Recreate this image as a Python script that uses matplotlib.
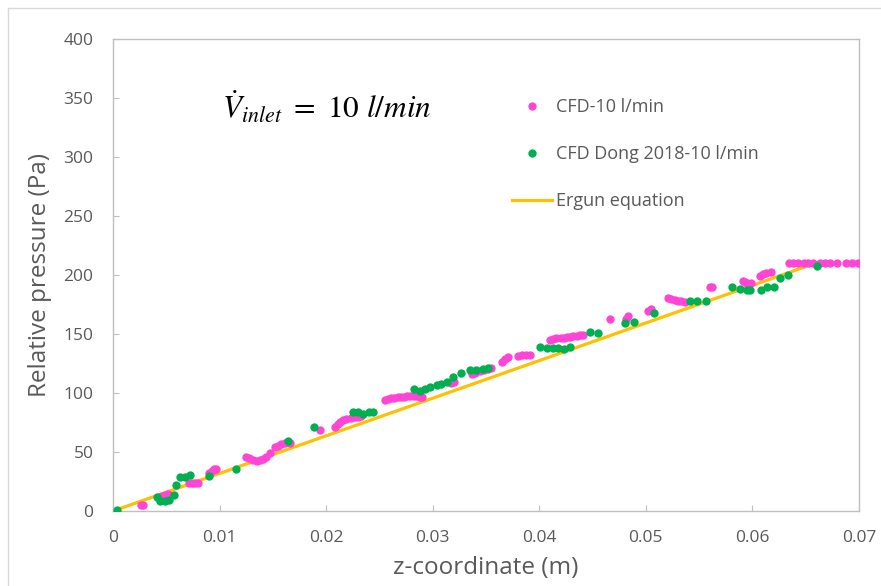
import numpy as np
import matplotlib.pyplot as plt
from matplotlib.lines import Line2D

# Datos
cfd_z = [0.0026, 0.0028, 0.0043, 0.0046, 0.0049, 0.0052, 0.0071, 0.0074, 0.0077, 0.0080,
         0.0090, 0.0093, 0.0095, 0.0097, 0.0125, 0.0128, 0.0131, 0.0135, 0.0138, 0.0141,
         0.0144, 0.0147, 0.0152, 0.0155, 0.0158, 0.0161, 0.0166, 0.0194, 0.0208, 0.0211,
         0.0213, 0.0216, 0.0219, 0.0223, 0.0227, 0.0230, 0.0233, 0.0255, 0.0258, 0.0261,
         0.0264, 0.0267, 0.0270, 0.0273, 0.0276, 0.0279, 0.0282, 0.0285, 0.0288, 0.0290,
         0.0317, 0.0320, 0.0337, 0.0340, 0.0344, 0.0348, 0.0352, 0.0355, 0.0365, 0.0368,
         0.0371, 0.0380, 0.0384, 0.0388, 0.0391, 0.0410, 0.0413, 0.0416, 0.0420, 0.0423,
         0.0426, 0.0429, 0.0432, 0.0435, 0.0438, 0.0441, 0.0466, 0.0481, 0.0483, 0.0502,
         0.0505, 0.0521, 0.0524, 0.0527, 0.0530, 0.0533, 0.0537, 0.0560, 0.0562, 0.0591,
         0.0593, 0.0595, 0.0599, 0.0607, 0.0610, 0.0613, 0.0617, 0.0634, 0.0638, 0.0643,
         0.0648, 0.0652, 0.0657, 0.0663, 0.0668, 0.0673, 0.0679, 0.0688, 0.0693, 0.0699]
cfd_p = [4.8, 5.5, 12, 13, 13.5, 14, 23.5, 23.5, 23.5, 23.5,
         32, 34, 35.5, 36, 45.5, 44.5, 43.5, 42.6, 43, 43.8,
         46, 48.9, 54.5, 55.5, 56.5, 57.5, 57.5, 68.6, 71.5, 73.5,
         75.7, 76.8, 77.7, 78.5, 79.4, 80, 80.5, 94, 95, 95.5,
         96, 96.3, 96.7, 96.9, 97.2, 97.5, 97.5, 97.5, 97, 96.9,
         108.5, 109.5, 116, 117, 118.5, 119.5, 120.5, 121, 126.5, 128.5,
         130.2, 131.4, 131.8, 132, 132, 144.9, 145.7, 146.3, 146.6, 146.9,
         147.3, 147.7, 148.2, 148.6, 148.8, 148.9, 162.4, 163, 165, 169.7,
         171, 180.2, 179.8, 178.8, 178.3, 178, 177.4, 189.6, 189.6, 195.2,
         194.2, 193.5, 192.9, 199, 200.8, 202, 202.5, 209.9, 209.9, 209.9,
         209.9, 209.9, 209.9, 209.9, 209.9, 209.9, 209.9, 209.9, 209.9, 209.9]

dong_z = [0.0004, 0.0041, 0.0044, 0.0049, 0.0053, 0.0057, 0.0059, 0.0063, 0.0068, 0.0072,
          0.0090, 0.01154, 0.01645, 0.01886, 0.0225, 0.0230, 0.0235, 0.0240, 0.0244, 0.0282,
          0.0288, 0.0293, 0.0297, 0.0304, 0.0308, 0.0313, 0.0319, 0.0327, 0.0335, 0.0341,
          0.0347, 0.0352, 0.0401, 0.0407, 0.0413, 0.0418, 0.0423, 0.0429, 0.0448, 0.0455,
          0.0480, 0.0489, 0.0508, 0.0541, 0.0548, 0.0556, 0.0581, 0.0588, 0.0595, 0.0598,
          0.0608, 0.0614, 0.0620, 0.0626, 0.0633, 0.0661]
dong_p = [0.8, 11.6, 8.7, 8.7, 9.3, 13.8, 22, 28.5, 28.5, 30.2,
          29.7, 35.9, 59.3, 71.5, 84.2, 84.2, 82, 84.2, 84.2, 103,
          102, 103, 105, 106.8, 107.3, 109.6, 113.8, 117.2, 119.5, 119.5,
          120, 121, 138.7, 137.9, 137.9, 137.9, 137.6, 138.7, 151.7, 150.6,
          159, 159.9, 168, 178.2, 178.2, 178.2, 189.6, 187.9, 187.3, 187.3,
          187.3, 189.6, 189.6, 197.2, 199.7, 207.6]

ergun_z = [0.0, 0.0659]
ergun_p = [0.0, 210.0]

rosa = "#FF45D6"
verde = "#00B050"
amarillo = "#FFC000"
gris = "#595959"

plt.rcParams["mathtext.fontset"] = "stix"

fig = plt.figure(figsize=(8.81, 5.86), dpi=100)
ax = fig.add_axes([113/881, 75/586, 746/881, 472/586])

ax.plot(ergun_z, ergun_p, color=amarillo, linewidth=2.3, zorder=2, solid_capstyle="butt")
ax.plot(cfd_z, cfd_p, linestyle="none", marker="o", markersize=6,
        color=rosa, markeredgewidth=0, zorder=3)
ax.plot(dong_z, dong_p, linestyle="none", marker="o", markersize=6,
        color=verde, markeredgewidth=0, zorder=4)

ax.set_xlim(0, 0.07)
ax.set_ylim(0, 400)
ax.set_xticks(np.arange(0, 0.071, 0.01))
ax.set_xticklabels(["0", "0.01", "0.02", "0.03", "0.04", "0.05", "0.06", "0.07"])
ax.set_yticks(np.arange(0, 401, 50))

for s in ax.spines.values():
    s.set_color("#BFBFBF")
    s.set_linewidth(1.0)
ax.tick_params(direction="in", length=4, color="#BFBFBF", labelcolor=gris,
               labelsize=12.5)
ax.tick_params(axis="x", pad=14)
ax.tick_params(axis="y", pad=14)
for lab in ax.get_xticklabels() + ax.get_yticklabels():
    lab.set_family("Open Sans")

ax.set_xlabel("z-coordinate (m)", fontsize=17.5, color=gris, family="Open Sans", labelpad=7)
ax.set_ylabel("Relative pressure (Pa)", fontsize=17.5, color=gris, family="Open Sans", labelpad=8)

ax.text(222/881, 1 - 119/586, r"$\dot{V}_{inlet}\ =\ 10\ l/min$", transform=fig.transFigure,
        fontsize=22.5, color="black", va="baseline")

handles = [
    Line2D([], [], linestyle="none", marker="o", markersize=6, color=rosa, markeredgewidth=0),
    Line2D([], [], linestyle="none", marker="o", markersize=6, color=verde, markeredgewidth=0),
    Line2D([], [], color=amarillo, linewidth=2.3),
]
leg = ax.legend(handles, ["CFD-10 l/min", "CFD Dong 2018-10 l/min", "Ergun equation"],
                loc="upper left", bbox_to_anchor=(496/881, 1 - 82/586),
                bbox_transform=fig.transFigure, frameon=False,
                labelspacing=1.6, handlelength=2.2, handletextpad=0.2,
                prop={"family": "Open Sans", "size": 13})
for t in leg.get_texts():
    t.set_color(gris)

# borde del área del gráfico
fig.add_artist(Line2D([8/881, 8/881], [0, 1 - 8/586], transform=fig.transFigure,
                      color="#D9D9D9", linewidth=1.0))
fig.add_artist(Line2D([8/881, 1], [1 - 8/586, 1 - 8/586], transform=fig.transFigure,
                      color="#D9D9D9", linewidth=1.0))

fig.savefig("out.png", dpi=100)
